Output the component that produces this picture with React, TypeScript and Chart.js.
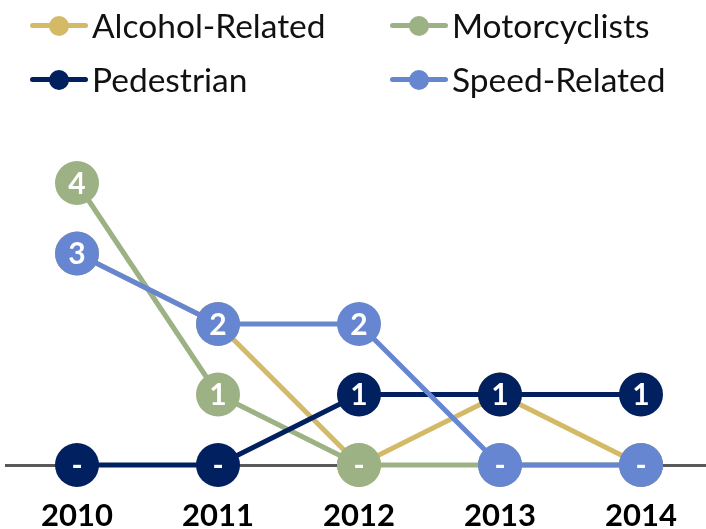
import React, { useEffect, useRef } from "react";
import { Chart, registerables } from "chart.js";

Chart.register(...registerables);

const years = ["2010", "2011", "2012", "2013", "2014"];
const alcoholRelated = [3, 2, 0, 1, 0];
const motorcyclists = [4, 1, 0, 0, 0];
const pedestrian = [0, 0, 1, 1, 1];
const speedRelated = [3, 2, 2, 0, 0];

const seriesNames = ["Alcohol-Related", "Motorcyclists", "Pedestrian", "Speed-Related"];
const seriesColors = ["#D4BA66", "#9CB184", "#00205F", "#6786D1"];
const seriesData = [alcoholRelated, motorcyclists, pedestrian, speedRelated];
// higher = drawn earlier (underneath)
const drawOrder = [4, 3, 2, 1];

const FONT = "Lato, 'Open Sans', sans-serif";

const labelPlugin = {
  id: "pointValueLabels",
  afterDatasetDraw(chart: any, args: any) {
    const ctx = chart.ctx;
    const meta = args.meta;
    const ds = chart.data.datasets[args.index];
    ctx.save();
    ctx.font = `bold 30px ${FONT}`;
    ctx.fillStyle = "#FFFFFF";
    ctx.textAlign = "center";
    ctx.textBaseline = "middle";
    meta.data.forEach((pt: any, i: number) => {
      const v = ds.data[i];
      if (v === null || v === undefined) return;
      const text = v === 0 ? "-" : String(v);
      ctx.fillText(text, pt.x, pt.y + 1);
    });
    ctx.restore();
  },
};

function LegendItem({ name, color, left, top }: { name: string; color: string; left: number; top: number }) {
  return (
    <div style={{ position: "absolute", left, top, height: 40, display: "flex", alignItems: "center" }}>
      <div style={{ position: "relative", width: 58, height: 40 }}>
        <div style={{ position: "absolute", left: 0, top: 17.5, width: 58, height: 5, background: color, borderRadius: 2.5 }} />
        <div style={{ position: "absolute", left: 19, top: 10.5, width: 20, height: 20, background: color, borderRadius: "50%" }} />
      </div>
      <span style={{ marginLeft: 4, fontFamily: FONT, fontSize: 33.5, color: "#111", whiteSpace: "nowrap", lineHeight: "40px" }}>{name}</span>
    </div>
  );
}

export default function App() {
  const canvasRef = useRef<HTMLCanvasElement | null>(null);

  useEffect(() => {
    document.body.style.margin = "0";
    document.body.style.overflow = "hidden";
    const canvas = canvasRef.current;
    if (!canvas) return;
    const chart = new Chart(canvas, {
      type: "line",
      data: {
        labels: years,
        datasets: seriesNames.map((name, i) => ({
          label: name,
          data: seriesData[i],
          borderColor: seriesColors[i],
          backgroundColor: seriesColors[i],
          pointBackgroundColor: seriesColors[i],
          pointBorderColor: seriesColors[i],
          pointBorderWidth: 0,
          pointRadius: 22,
          pointHoverRadius: 22,
          borderWidth: 5,
          tension: 0,
          fill: false,
          clip: false as any,
          order: drawOrder[i],
        })),
      },
      options: {
        responsive: false,
        animation: false,
        devicePixelRatio: 1,
        layout: { autoPadding: false, padding: { left: 6.5, right: 0.5, top: 112.5, bottom: 0 } },
        plugins: {
          legend: { display: false },
          tooltip: { enabled: false },
        },
        scales: {
          x: {
            type: "category",
            offset: true,
            grid: { display: false, drawTicks: false, tickLength: 0 },
            border: { display: true, color: "#595959", width: 3 },
            ticks: {
              color: "#000",
              font: { family: FONT, size: 31, weight: "bold" },
              padding: 32,
              maxRotation: 0,
            },
            afterFit(scale: any) {
              scale.height = 64;
            },
          },
          y: {
            display: false,
            min: 0,
            max: 5,
          },
        },
      },
      plugins: [labelPlugin],
    });
    return () => chart.destroy();
  }, []);

  return (
    <div style={{ position: "fixed", left: 0, top: 0, width: 712, height: 529, background: "#fff" }}>
      <canvas ref={canvasRef} width={712} height={529} style={{ position: "absolute", left: 0, top: 0, width: 712, height: 529 }} />
      <LegendItem name={seriesNames[0]} color={seriesColors[0]} left={30} top={5} />
      <LegendItem name={seriesNames[1]} color={seriesColors[1]} left={390} top={5} />
      <LegendItem name={seriesNames[2]} color={seriesColors[2]} left={30} top={59} />
      <LegendItem name={seriesNames[3]} color={seriesColors[3]} left={390} top={59} />
    </div>
  );
}
